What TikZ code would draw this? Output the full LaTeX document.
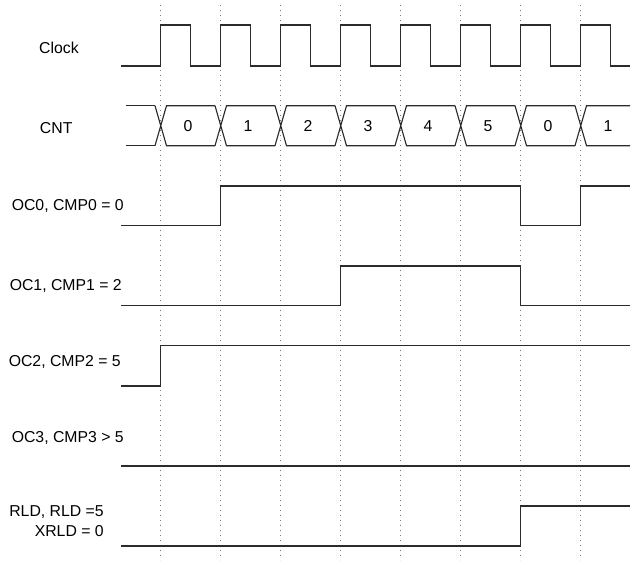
\documentclass[tikz,border=0pt]{standalone}
\usepackage{fontspec}
\setmainfont{Liberation Sans}
\definecolor{cwave}{HTML}{2B2B2B}
\definecolor{cgrid}{HTML}{7A7A7A}
\tikzset{
  every picture/.style={font=\fontsize{11.85}{15}\selectfont},
  wave/.style={draw=cwave, line width=0.85pt, line join=miter},
  gridline/.style={draw=cgrid, line width=0.8pt, dash pattern=on 0.8pt off 2.95pt},
  siglabel/.style={anchor=east, align=right, inner sep=0pt},
  busval/.style={inner sep=0pt},
}

\begin{document}
\begin{tikzpicture}[x=0.75pt,y=-0.75pt]
  \useasboundingbox (0,0) rectangle (631,560);
  % clock edges
  \foreach \k in {0,...,7}
    \draw[gridline] (160.5+60*\k,5) -- (160.5+60*\k,560);
  % signal names
  \node[siglabel] (clk) at (79,48) {Clock};
  \node[siglabel] (cnt) at (72.7,128) {CNT};
  \node[siglabel] (oc0) at (124,205.5) {OC0, CMP0 = 0};
  \node[siglabel] (oc1) at (122,285.5) {OC1, CMP1 = 2};
  \node[siglabel] (oc2) at (121,362) {OC2, CMP2 = 5};
  \node[siglabel] (oc3) at (124,437.5) {OC3, CMP3 > 5};
  \node[siglabel] (rld) at (104,521) {RLD, RLD =5\\XRLD = 0};
  % clock
  \draw[wave] (121,66) -- (160.5,66);
  \foreach \k in {0,...,7} {
    \pgfmathsetmacro{\xa}{160.5+60*\k}
    \pgfmathsetmacro{\xe}{min(\xa+60,630)}
    \draw[wave] (\xa,66) -- (\xa,25) -- (\xa+30,25) -- (\xa+30,66) -- (\xe,66);
  }
  % counter bus
  \draw[wave] (126,105.7) -- (155,105.7) (126,145.7) -- (155,145.7);
  \foreach \v [count=\k from 0] in {0,1,2,3,4,5,0,1} {
    \pgfmathsetmacro{\xa}{160.5+60*\k}
    \pgfmathsetmacro{\xe}{min(\xa+54.5,630)}
    \draw[wave] (\xa-5.5,105.7) -- (\xa+6,145.7) -- (\xe,145.7)
                (\xa-5.5,145.7) -- (\xa+6,105.7) -- (\xe,105.7);
    \node[busval] (val\k) at (\xa+27.5,125.7) {\v};
  }
  % compare outputs
  \draw[wave] (121,225.7) -- (220.5,225.7) -- (220.5,186) -- (520.5,186)
    -- (520.5,225.7) -- (580.5,225.7) -- (580.5,186) -- (630,186);
  \draw[wave] (121,305.7) -- (340.5,305.7) -- (340.5,266) -- (520.5,266)
    -- (520.5,305.7) -- (630,305.7);
  \draw[wave] (121,386) -- (160.5,386) -- (160.5,345.7) -- (630,345.7);
  \draw[wave] (121,466) -- (630,466);
  % reload
  \draw[wave] (121,546) -- (520.5,546) -- (520.5,506) -- (630,506);
\end{tikzpicture}
\end{document}
